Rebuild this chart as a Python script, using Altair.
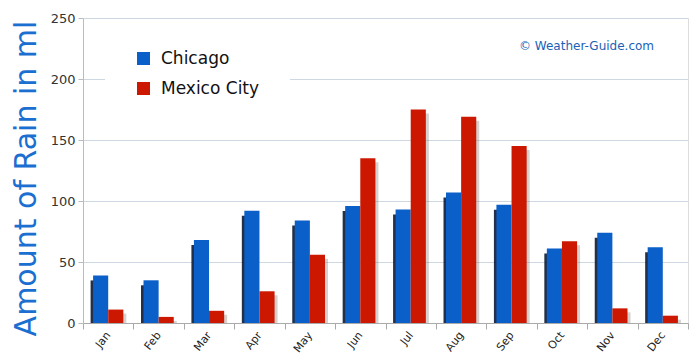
import altair as alt
import pandas as pd

months = ["Jan", "Feb", "Mar", "Apr", "May", "Jun", "Jul", "Aug", "Sep", "Oct", "Nov", "Dec"]
chicago = [39, 35, 68, 92, 84, 96, 93, 107, 97, 61, 74, 62]
mexico = [11, 5, 10, 26, 56, 135, 175, 169, 145, 67, 12, 6]
series = ["Chicago", "Mexico City"]
colors = ["#0a5fc8", "#cc1800"]
shadow_colors = ["#0b1a33", "#8a7a72"]

rows = []
for i, m in enumerate(months):
    rows.append({"month": m, "city": series[0], "rain": chicago[i]})
    rows.append({"month": m, "city": series[1], "rain": mexico[i]})
df = pd.DataFrame(rows)
df_chi = df[df.city == series[0]]
df_mex = df[df.city == series[1]]

FONT = "DejaVu Sans"
W = 605
STEP = W / len(months)
HALF = STEP * 0.3 / 2

x_enc = alt.X("month:N", sort=months, title=None,
              scale=alt.Scale(paddingInner=0, paddingOuter=0),
              axis=alt.Axis(labelAngle=-52, labelAlign="right", labelBaseline="middle",
                            labelFontSize=11, labelColor="#222", labelPadding=4,
                            tickBand="extent", tickColor="#aaa", domainColor="#aaa",
                            tickSize=6, labelFont=FONT))
y_axis = alt.Axis(values=[0, 50, 100, 150, 200, 250], labelFontSize=13,
                  labelColor="#333", labelFont=FONT, tickSize=5, tickColor="#bbb",
                  domainColor="#bbb", gridColor="#cdd8e3", labelPadding=3,
                  titleFontSize=30, titleColor="#1a6fd0", titleFont=FONT,
                  titleFontWeight="normal", titleX=-48, titleY=160,
                  titleBaseline="alphabetic", titleAlign="center",
                  titleAngle=270, titlePadding=0)
y_scale = alt.Scale(domain=[0, 250], nice=False)
y_enc = alt.Y("rain:Q", title="Amount of Rain in ml", scale=y_scale, axis=y_axis, stack=None)
bw = alt.RelativeBandSize(0.3)

color_enc = alt.Color("city:N", sort=series,
                      scale=alt.Scale(domain=series, range=colors),
                      legend=alt.Legend(title=None, orient="none", legendX=22, legendY=2,
                                        symbolType="square", symbolSize=170, symbolStrokeWidth=0,
                                        labelFontSize=17, labelColor="#111", labelFont=FONT,
                                        fillColor="white", padding=30, rowPadding=12,
                                        labelOffset=9))

shadow_chi = alt.Chart(df_chi).mark_bar(
    color=shadow_colors[0], width=bw, xOffset=-HALF - 2.5, yOffset=5, y2Offset=0, opacity=0.9
).encode(x=x_enc, y=y_enc, y2=alt.Y2(datum=0))

shadow_mex = alt.Chart(df_mex).mark_bar(
    color=shadow_colors[1], width=bw, xOffset=HALF + 3, yOffset=4, y2Offset=0, opacity=0.35
).encode(x=x_enc, y=y_enc, y2=alt.Y2(datum=0))

bars_chi = alt.Chart(df_chi).mark_bar(width=bw, xOffset=-HALF).encode(
    x=x_enc, y=y_enc, color=color_enc)
bars_mex = alt.Chart(df_mex).mark_bar(width=bw, xOffset=HALF).encode(
    x=x_enc, y=y_enc, color=color_enc)

credit = alt.Chart(pd.DataFrame({"t": ["© Weather-Guide.com"]})).mark_text(
    align="left", baseline="middle", fontSize=12, color="#1a5fb8", font=FONT
).encode(text="t:N", x=alt.value(436), y=alt.value(28))

chart = alt.layer(shadow_chi, shadow_mex, bars_chi, bars_mex, credit).properties(
    width=W, height=305,
    padding={"left": 75, "top": 10, "right": 4, "bottom": 33},
    autosize=alt.AutoSizeParams(type="none"),
).configure_view(stroke="#bbb", strokeWidth=1).configure(background="white")

chart.save("out.html", embed_options={"renderer": "svg", "actions": False})
